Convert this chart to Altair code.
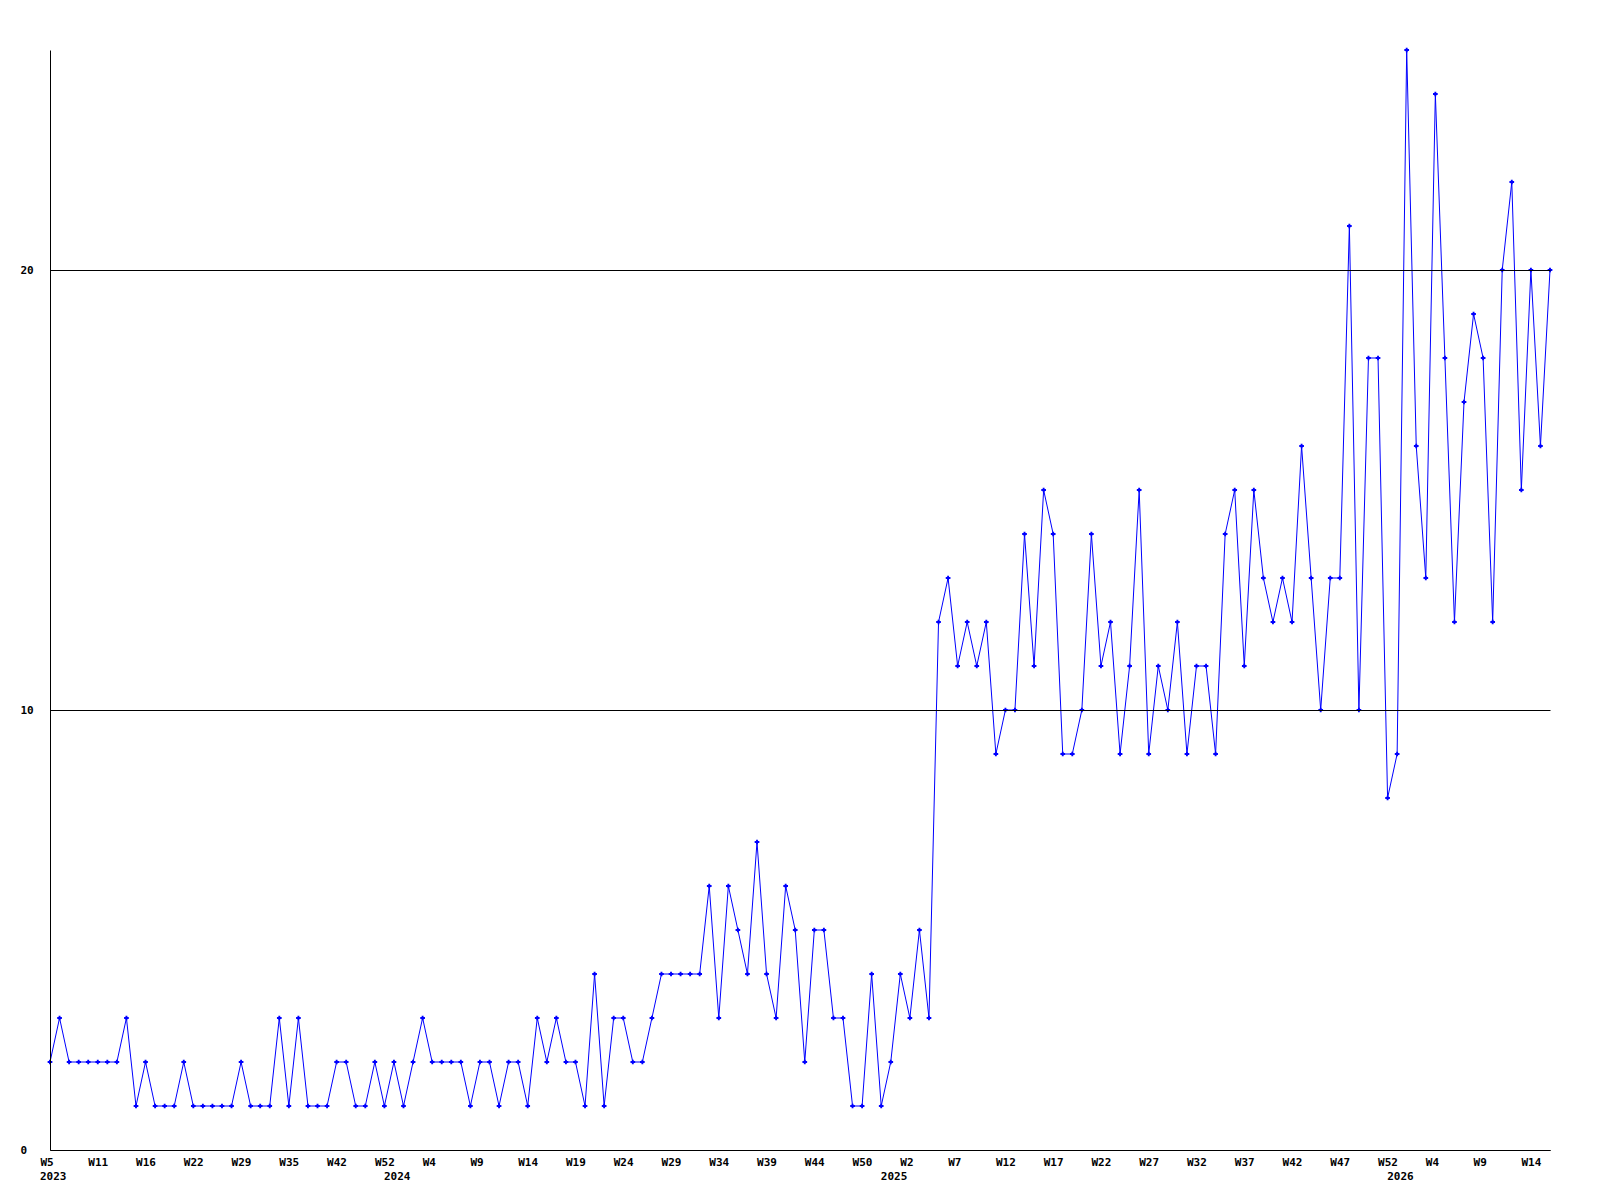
import json
import altair as alt
import pandas as pd

# weekly counts, one per plotted week (weeks without data are skipped)
values = [
    2, 3, 2, 2, 2, 2, 2, 2, 3, 1,
    2, 1, 1, 1, 2, 1, 1, 1, 1, 1,
    2, 1, 1, 1, 3, 1, 3, 1, 1, 1,
    2, 2, 1, 1, 2, 1, 2, 1, 2, 3,
    2, 2, 2, 2, 1, 2, 2, 1, 2, 2,
    1, 3, 2, 3, 2, 2, 1, 4, 1, 3,
    3, 2, 2, 3, 4, 4, 4, 4, 4, 6,
    3, 6, 5, 4, 7, 4, 3, 6, 5, 2,
    5, 5, 3, 3, 1, 1, 4, 1, 2, 4,
    3, 5, 3, 12, 13, 11, 12, 11, 12, 9,
    10, 10, 14, 11, 15, 14, 9, 9, 10, 14,
    11, 12, 9, 11, 15, 9, 11, 10, 12, 9,
    11, 11, 9, 14, 15, 11, 15, 13, 12, 13,
    12, 16, 13, 10, 13, 13, 21, 10, 18, 18,
    8, 9, 25, 16, 13, 24, 18, 12, 17, 19,
    18, 12, 20, 22, 15, 20, 16, 20,
]

# label shown under every 5th point
tick_labels = ["W5", "W11", "W16", "W22", "W29", "W35", "W42", "W52",
               "W4", "W9", "W14", "W19", "W24", "W29", "W34", "W39", "W44", "W50",
               "W2", "W7", "W12", "W17", "W22", "W27", "W32", "W37", "W42", "W47", "W52",
               "W4", "W9", "W14"]

years = ["2023", "2024", "2025", "2026"]
year_start = [0, 36, 88, 141]

FONT = "DejaVu Sans Mono"
BLUE = "#0000ff"
W, H = 1500, 1100

df = pd.DataFrame({"i": list(range(len(values))), "v": values})
ydf = pd.DataFrame({"i": year_start, "year": years})

label_expr = json.dumps(tick_labels) + "[round(datum.value / 5)]"

xscale = alt.Scale(domain=[0, len(values) - 1], nice=False, zero=False)

x = alt.X(
    "i:Q",
    scale=xscale,
    axis=alt.Axis(
        values=list(range(0, len(values), 5)),
        labelExpr=label_expr,
        ticks=False,
        grid=False,
        domainColor="black",
        domainWidth=1,
        labelFont=FONT,
        labelFontWeight="bold",
        labelFontSize=11,
        labelColor="black",
        labelAlign="left",
        labelOffset=-10,
        labelPadding=6,
        labelFlush=False,
        labelOverlap=False,
        title=None,
    ),
)
y = alt.Y(
    "v:Q",
    scale=alt.Scale(domain=[0, 25], nice=False, zero=True),
    axis=alt.Axis(
        values=[0, 10, 20],
        grid=True,
        gridColor="black",
        gridOpacity=1,
        gridWidth=1,
        ticks=False,
        domainColor="black",
        domainWidth=1,
        labelFont=FONT,
        labelFontWeight="bold",
        labelFontSize=11,
        labelColor="black",
        labelAlign="left",
        labelPadding=30,
        zindex=1,
        title=None,
    ),
)

base = alt.Chart(df).encode(x=x, y=y)
line = base.mark_line(color=BLUE, strokeWidth=1)
pts = base.mark_point(shape="cross", filled=True, size=22, color=BLUE, opacity=1)

yr = alt.Chart(ydf).mark_text(
    align="left", dx=-10, baseline="middle", font=FONT, fontWeight="bold",
    fontSize=11, color="black"
).encode(
    x=alt.X("i:Q", scale=xscale),
    y=alt.value(H + 27),
    text="year:N",
)

chart = (
    alt.layer(line, pts, yr)
    .properties(
        width=W,
        height=H,
        autosize=alt.AutoSizeParams(type="none"),
        padding={"left": 42, "top": 42, "right": 40, "bottom": 60},
        background="white",
    )
    .configure_view(strokeOpacity=0)
)

chart.save("out.html", embed_options={"renderer": "svg", "actions": False})
